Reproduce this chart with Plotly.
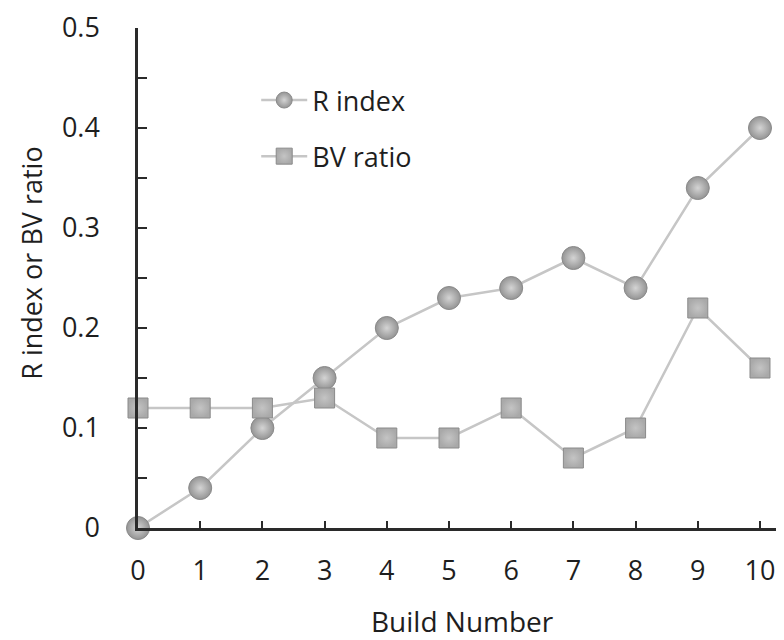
import plotly.graph_objects as go

build = [0, 1, 2, 3, 4, 5, 6, 7, 8, 9, 10]
r_index = [0, 0.04, 0.10, 0.15, 0.20, 0.23, 0.24, 0.27, 0.24, 0.34, 0.40]
bv_ratio = [0.12, 0.12, 0.12, 0.13, 0.09, 0.09, 0.12, 0.07, 0.10, 0.22, 0.16]
y_ticks = [0, 0.1, 0.2, 0.3, 0.4, 0.5]
y_tick_text = ["0", "0.1", "0.2", "0.3", "0.4", "0.5"]
y_minor = [0.05, 0.15, 0.25, 0.35, 0.45]

FONT = "Open Sans"
FS = 27
AX = "#2a2a2a"

fig = go.Figure()
fig.add_trace(go.Scatter(
    x=build, y=r_index, name="R index", mode="lines+markers",
    line=dict(color="#c6c6c6", width=2.5),
    marker=dict(symbol="circle", size=23, color="#949494",
                gradient=dict(type="radial", color="#d4d4d4"),
                line=dict(color="#8a8a8a", width=1)),
    cliponaxis=False, legendgroup="a"))
fig.add_trace(go.Scatter(
    x=build, y=bv_ratio, name="BV ratio", mode="lines+markers",
    line=dict(color="#c6c6c6", width=2.5),
    marker=dict(symbol="square", size=20, color="#a9a9a9",
                gradient=dict(type="radial", color="#c4c4c4"),
                line=dict(color="#8a8a8a", width=1)),
    cliponaxis=False, legendgroup="b"))

fig.update_layout(
    width=776, height=632,
    margin=dict(l=130, r=0, t=20, b=112),
    plot_bgcolor="white", paper_bgcolor="white",
    font=dict(family=FONT, size=FS, color="#1e1e1e"),
    showlegend=True,
    legend=dict(x=0.183, y=0.904, xanchor="left", yanchor="top",
                bgcolor="rgba(0,0,0,0)", font=dict(size=FS, family=FONT),
                traceorder="grouped", tracegroupgap=18, itemwidth=46),
    xaxis=dict(range=[0, 10.386], tickvals=build, ticks="inside", ticklen=7,
               tickwidth=2, tickcolor=AX, showline=True, linecolor=AX,
               linewidth=2.5, showgrid=False, zeroline=False,
               ticklabelstandoff=17),
    yaxis=dict(range=[0, 0.5], tickvals=y_ticks, ticktext=y_tick_text,
               ticks="inside", ticklen=9, tickwidth=2, tickcolor=AX,
               showline=True, linecolor=AX, linewidth=2.5, showgrid=False,
               zeroline=False, ticklabelstandoff=30,
               minor=dict(tickvals=y_minor, ticks="inside",
                          ticklen=9, tickwidth=2, tickcolor=AX)),
    annotations=[
        dict(text="Build Number", xref="paper", yref="paper", x=0.502, y=-0.186,
             xanchor="center", yanchor="middle", showarrow=False,
             font=dict(size=FS + 1, family=FONT)),
        dict(text="R index or BV ratio", xref="paper", yref="paper", x=-0.166,
             y=0.53, xanchor="center", yanchor="middle", textangle=-90,
             showarrow=False, font=dict(size=FS, family=FONT)),
    ],
)
fig.write_html("out.html")
